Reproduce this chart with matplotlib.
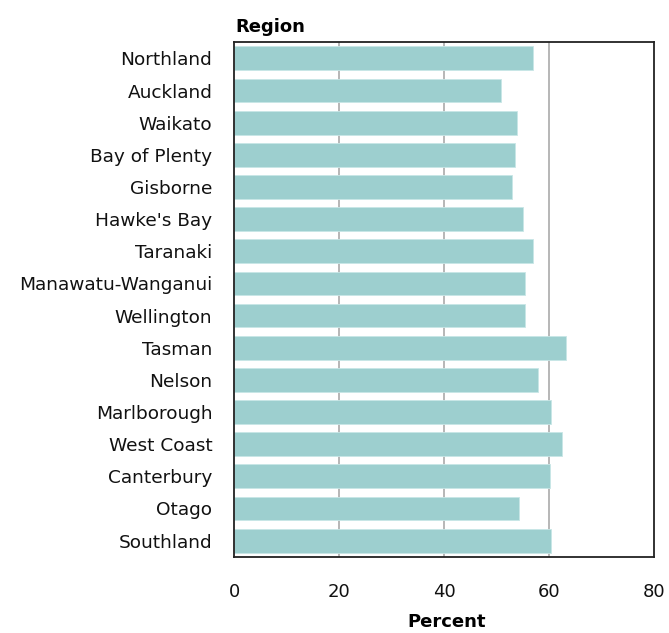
import matplotlib
matplotlib.use("Agg")
import matplotlib.pyplot as plt

regions = ["Northland", "Auckland", "Waikato", "Bay of Plenty", "Gisborne",
           "Hawke's Bay", "Taranaki", "Manawatu-Wanganui", "Wellington",
           "Tasman", "Nelson", "Marlborough", "West Coast", "Canterbury",
           "Otago", "Southland"]
percent = [57.0, 50.9, 53.9, 53.5, 52.9, 55.1, 57.0, 55.5, 55.5,
           63.2, 57.8, 60.4, 62.4, 60.2, 54.3, 60.4]
xticks = [0, 20, 40, 60, 80]

plt.rcParams['font.family'] = ['DejaVu Sans']

fig = plt.figure(figsize=(6.69, 6.33), dpi=100)
ax = fig.add_axes([0.3505, 0.1205, 0.627, 0.8127])

ypos = list(range(len(regions)))
ax.barh(ypos, percent, height=0.74, color='#9dcfcf', edgecolor='#c8e6e6',
        linewidth=0.6, zorder=2)
ax.set_ylim(len(regions) - 0.5, -0.5)
ax.set_xlim(0, 80)
ax.set_xticks(xticks)
ax.set_xticklabels([str(t) for t in xticks], fontsize=13)
ax.set_yticks(ypos)
ax.set_yticklabels(regions, fontsize=13.3)
ax.tick_params(axis='both', length=0, colors='#111111')
ax.tick_params(axis='y', pad=16)
ax.tick_params(axis='x', pad=19)

for t in [20, 40, 60]:
    ax.axvline(t, color='#aaaaaa', linewidth=1.2, zorder=1)

for s in ax.spines.values():
    s.set_linewidth(1.3)
    s.set_color('#222222')

fig.text(235 / 669, 1 - 31.7 / 633, "Region", fontsize=13, fontweight='bold',
         ha='left', va='baseline')
fig.text(447 / 669, 2 / 633, "Percent", fontsize=13, fontweight='bold',
         ha='center', va='bottom')

fig.savefig("out.png", dpi=100)
